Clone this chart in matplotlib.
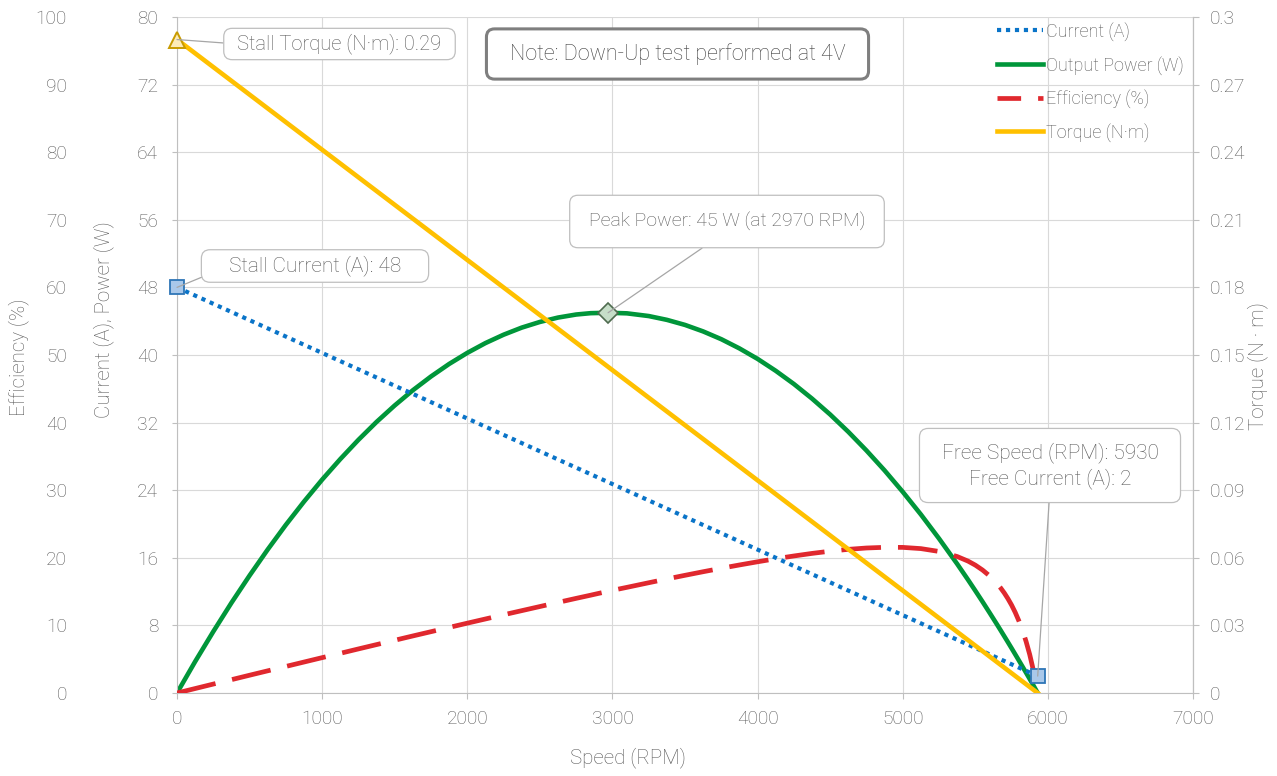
import matplotlib
matplotlib.use("Agg")
import matplotlib.pyplot as plt
from matplotlib.lines import Line2D
from matplotlib.patches import BoxStyle

plt.rcParams["font.family"] = ["Roboto", "DejaVu Sans"]
plt.rcParams["font.weight"] = "light"

# ---- data -------------------------------------------------------------
speed_rpm = [0, 125, 250, 375, 500, 625, 750, 875, 1000, 1125, 1250, 1375,
             1500, 1625, 1750, 1875, 2000, 2125, 2250, 2375, 2500, 2625,
             2750, 2850, 2970, 3100, 3250, 3375, 3500, 3625, 3750, 3875,
             4000, 4125, 4250, 4375, 4500, 4625, 4750, 4875, 5000, 5125,
             5250, 5375, 5450, 5500, 5550, 5600, 5650, 5675, 5700, 5725,
             5750, 5775, 5800, 5825, 5850, 5875, 5900, 5915, 5930]
power_w = [0.0, 3.72, 7.27, 10.67, 13.90, 16.98, 19.90, 22.65, 25.25, 27.68,
           29.96, 32.08, 34.03, 35.83, 37.46, 38.94, 40.25, 41.41, 42.40,
           43.24, 43.91, 44.43, 44.79, 44.95, 45.0, 44.93, 44.61, 44.16,
           43.56, 42.79, 41.87, 40.78, 39.54, 38.13, 36.57, 34.84, 32.96,
           30.91, 28.70, 26.34, 23.81, 21.13, 18.28, 15.28, 13.40, 12.11,
           10.80, 9.46, 8.10, 7.41, 6.71, 6.01, 5.30, 4.58, 3.86, 3.13,
           2.40, 1.66, 0.91, 0.45, 0.0]
efficiency_pct = [0.0, 0.66, 1.32, 1.97, 2.63, 3.28, 3.93, 4.58, 5.23, 5.87,
                  6.52, 7.16, 7.80, 8.44, 9.07, 9.70, 10.33, 10.95, 11.57,
                  12.18, 12.79, 13.40, 14.00, 14.47, 15.05, 15.63, 16.31,
                  16.87, 17.41, 17.94, 18.45, 18.94, 19.41, 19.86, 20.27,
                  20.65, 20.98, 21.25, 21.45, 21.55, 21.54, 21.36, 20.94,
                  20.19, 19.51, 18.92, 18.19, 17.30, 16.18, 15.53, 14.79,
                  13.95, 13.01, 11.93, 10.69, 9.28, 7.62, 5.69, 3.38, 1.79,
                  0.0]

line_speed_rpm = [0, 5930]
current_a = [48, 2]
torque_nm = [0.29, 0.0]

peak_speed_rpm = 2970
peak_power_w = 45

current_ticks = [0, 8, 16, 24, 32, 40, 48, 56, 64, 72, 80]
efficiency_ticks = [0, 10, 20, 30, 40, 50, 60, 70, 80, 90, 100]
torque_ticks = [0, 0.03, 0.06, 0.09, 0.12, 0.15, 0.18, 0.21, 0.24, 0.27, 0.3]
torque_tick_labels = ["0", "0.03", "0.06", "0.09", "0.12", "0.15", "0.18",
                      "0.21", "0.24", "0.27", "0.3"]
speed_ticks = [0, 1000, 2000, 3000, 4000, 5000, 6000, 7000]

# ---- styles -----------------------------------------------------------
C_CURRENT = "#0A74C8"
C_POWER = "#00963A"
C_EFF = "#E0282E"
C_TORQUE = "#FFC000"
TXT = "#595959"
GRID = "#D9D9D9"
AXIS = "#BFBFBF"
FS = 13.8
W, H = 1277, 776


def rounded_box(padx, pady, r=0.42):
    base = BoxStyle.Round(pad=0, rounding_size=r)

    def style(x0, y0, width, height, mutation_size):
        px = padx * mutation_size
        py = pady * mutation_size
        return base(x0 - px, y0 - py, width + 2 * px, height + 2 * py,
                    mutation_size)
    return style


fig = plt.figure(figsize=(W / 100, H / 100), dpi=100)
ax = fig.add_axes([177 / W, 83 / H, 1016 / W, 676 / H])
ax_e = ax.twinx()
ax_t = ax.twinx()

# main axis: current and power
ax.set_xlim(0, 7000)
ax.set_ylim(0, 80)
ax.set_xticks(speed_ticks)
ax.set_yticks(current_ticks)
ax.grid(True, color=GRID, lw=0.8)
ax.set_axisbelow(True)
ax.spines["top"].set_visible(False)
for s in ["left", "bottom", "right"]:
    ax.spines[s].set_color(AXIS)
    ax.spines[s].set_linewidth(0.8)
ax.tick_params(axis="y", length=3.6, width=0.8, color=AXIS, pad=10,
               labelcolor=TXT, labelsize=FS)
ax.tick_params(axis="x", length=4.5, width=0.8, color=AXIS, pad=7.5,
               labelcolor=TXT, labelsize=FS)

ax.plot(line_speed_rpm, current_a, color=C_CURRENT, lw=3.0,
        linestyle=(0, (1, 1.15)), zorder=3)
ax.plot(speed_rpm, power_w, color=C_POWER, lw=3.3, zorder=2,
        solid_joinstyle="round")

# efficiency axis (outer left)
ax_e.set_ylim(0, 100)
ax_e.set_yticks(efficiency_ticks)
ax_e.yaxis.tick_left()
ax_e.spines["left"].set_position(("axes", (72 - 177) / 1016))
for s in ax_e.spines.values():
    s.set_visible(False)
ax_e.tick_params(axis="y", length=0, pad=3.6, labelcolor=TXT, labelsize=FS)
ax_e.plot(speed_rpm, efficiency_pct, color=C_EFF, lw=3.4,
          linestyle=(0, (8.4, 3.6)), zorder=2)

# torque axis (right)
ax_t.set_ylim(0, 0.3)
ax_t.set_yticks(torque_ticks)
ax_t.set_yticklabels(torque_tick_labels)
for s in ["top", "left", "bottom"]:
    ax_t.spines[s].set_visible(False)
ax_t.spines["right"].set_color(AXIS)
ax_t.spines["right"].set_linewidth(0.8)
ax_t.tick_params(axis="y", length=4.5, width=0.8, color=AXIS, pad=8,
                 labelcolor=TXT, labelsize=FS)
ax_t.plot(line_speed_rpm, torque_nm, color=C_TORQUE, lw=3.3, zorder=2)

# axis titles
LFS = 14.8
fig.text(628 / W, 1 - 758 / H, "Speed (RPM)", ha="center", va="center",
         color=TXT, fontsize=LFS)
fig.text(19 / W, 1 - 357 / H, "Efficiency (%)", ha="center", va="center",
         rotation=90, color=TXT, fontsize=LFS)
fig.text(104 / W, 1 - 320 / H, "Current (A), Power (W)", ha="center",
         va="center", rotation=90, color=TXT, fontsize=LFS)
fig.text(1258 / W, 1 - 366 / H, "Torque (N \u00b7 m)", ha="center",
         va="center", rotation=90, color=TXT, fontsize=LFS)

# point markers (drawn on top of every series)
mk = dict(clip_on=False, zorder=10, linestyle="none")
ax_t.plot([line_speed_rpm[0]], [torque_nm[0]], marker="^", ms=12,
          mfc="#FDEBB8", mec="#C89B00", mew=1.4, transform=ax_t.transData, **mk)
ax_t.plot([line_speed_rpm[0]], [current_a[0]], marker="s", ms=9.5,
          mfc="#A9C8EA", mec="#2E75B6", mew=1.3, transform=ax.transData, **mk)
ax_t.plot([line_speed_rpm[1]], [current_a[1]], marker="s", ms=9.5,
          mfc="#A9C8EA", mec="#2E75B6", mew=1.3, transform=ax.transData, **mk)
ax_t.plot([peak_speed_rpm], [peak_power_w], marker="D", ms=10,
          mfc="#C6DEC8", mec="#4F6B4F", mew=1.2, transform=ax.transData, **mk)

# callouts
arrow = dict(arrowstyle="-", color="#A6A6A6", lw=0.9, shrinkA=0, shrinkB=0)


def callout(text, xy, trans, center, size, padx, pady, relpos):
    return ax_t.annotate(
        text, xy=xy, xycoords=trans,
        xytext=(center[0], H - center[1]), textcoords="figure pixels",
        ha="center", va="center", color=TXT, fontsize=size, zorder=11,
        linespacing=1.3, annotation_clip=False,
        bbox=dict(boxstyle=rounded_box(padx, pady), fc="white", ec=AXIS,
                  lw=0.9),
        arrowprops=dict(arrow, relpos=relpos))


callout(f"Stall Torque (N\u00b7m): {torque_nm[0]:g}",
        (line_speed_rpm[0], torque_nm[0]), ax_t.transData,
        (339.5, 44), 14.5, 0.68, 0.26, (0, 0.5))
callout(f"Stall Current (A): {current_a[0]:g}",
        (line_speed_rpm[0], current_a[0]), ax.transData,
        (315, 266), 15, 1.32, 0.28, (0, 0.5))
callout(f"Peak Power: {peak_power_w:g} W (at {peak_speed_rpm} RPM)",
        (peak_speed_rpm, peak_power_w), ax.transData,
        (727, 221.5), 14, 0.98, 0.86, (0.5, 0))
callout(f"Free Speed (RPM): {line_speed_rpm[1]}\n"
        f"Free Current (A): {current_a[1]:g}",
        (line_speed_rpm[1], current_a[1]), ax.transData,
        (1050, 465.5), 15, 1.06, 0.66, (0.5, 0))

fig.text(677.5 / W, 1 - 54 / H, "Note: Down-Up test performed at 4V",
         ha="center", va="center", color="#404040", fontsize=15.5, zorder=12,
         bbox=dict(boxstyle=rounded_box(1.08, 0.66, 0.38), fc="white",
                   ec="#7F7F7F", lw=2.2))

# legend
handles = [
    Line2D([], [], color=C_CURRENT, lw=3.0, linestyle=(0, (1, 1.15))),
    Line2D([], [], color=C_POWER, lw=3.3),
    Line2D([], [], color=C_EFF, lw=3.4, linestyle=(0, (5, 3.6))),
    Line2D([], [], color=C_TORQUE, lw=3.3),
]
labels = ["Current (A)", "Output Power (W)", "Efficiency (%)", "Torque (N\u00b7m)"]
leg = ax_t.legend(handles, labels, loc="upper left",
                  bbox_to_anchor=(997 / W, 1 - 22 / H),
                  bbox_transform=fig.transFigure, frameon=False,
                  fontsize=13, labelcolor=TXT, handlelength=2.55,
                  handletextpad=0.15, labelspacing=0.81, borderpad=0,
                  borderaxespad=0)
leg.set_zorder(12)

fig.savefig("out.png", dpi=100)
